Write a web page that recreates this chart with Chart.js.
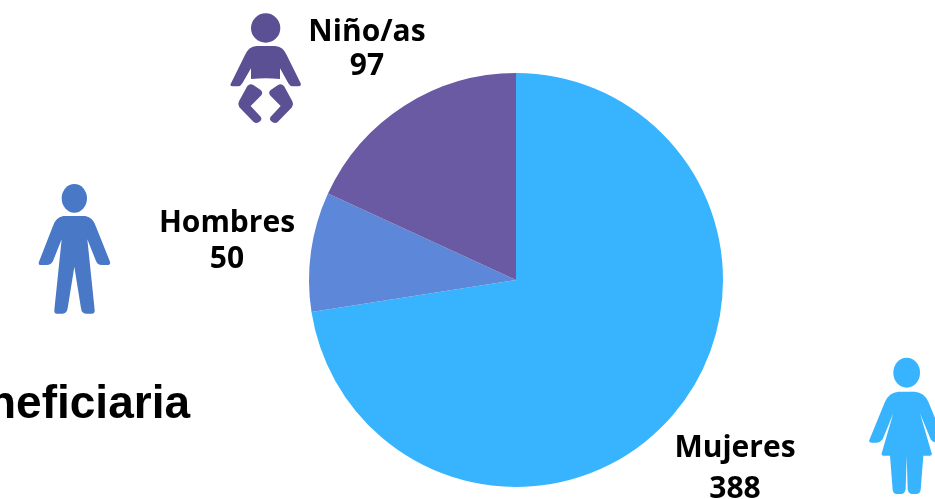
<!DOCTYPE html>
<html>
<head>
<meta charset="utf-8">
<script src="https://cdn.jsdelivr.net/npm/chart.js@4"></script>
<style>
    html, body { margin: 0; padding: 0; background: #fff; overflow: hidden; }
    #wrap { width: 935px; height: 499px; }
</style>
</head>
<body>
<div id="wrap"><canvas id="pieChart"></canvas></div>
<script>
const categories = ['Mujeres', 'Hombres', 'Niño/as'];
const values = [388, 50, 97];
const sliceColors = ['#38B4FF', '#5D87D8', '#6A5AA3'];
const titleText = 'Beneficiaria';

// label centres, same order as categories: [x, first line y, second line y]
const labelPos = [[735, 448, 489], [227, 223, 259], [367, 32, 66]];

// icons are traced at 3x, so they get scaled down when drawn
const babyBody = 'M770 138 L825 138 Q850 140 860 165 L902 250 Q905 259 895 259 L878 259 Q870 259 865 250 L840 205 L840 237 Q797 232 753 237 L753 205 L727 250 Q722 259 714 259 L698 259 Q688 259 693 250 L735 165 Q745 140 770 138 Z';
const babyLegL = 'M742 258 Q750 250 760 255 L782 270 Q790 277 784 286 L752 318 L782 350 Q787 357 781 363 L776 367 Q768 372 761 366 L718 322 Q712 313 717 304 Z';
const babyLegR = 'M852 258 Q844 250 834 255 L812 270 Q804 277 810 286 L842 318 L812 350 Q807 357 813 363 L818 367 Q826 372 833 366 L876 322 Q882 313 877 304 Z';
const manBody = 'M190 648 L256 648 Q280 652 288 680 L330 785 Q333 795 320 795 L305 795 Q293 795 288 783 L262 718 L284 930 Q285 941 275 941 L258 941 Q245 941 243 925 L223 800 L203 925 Q200 941 188 941 L170 941 Q162 941 163 930 L185 718 L159 783 Q153 795 140 795 L124 795 Q113 795 117 785 L158 680 Q166 652 190 648 Z';
const womanBody = 'M745 155 L795 155 Q822 157 835 185 L882 300 Q885 308 875 308 L860 308 Q848 307 842 298 L810 220 L845 340 Q847 347 840 347 L820 347 L812 450 Q810 462 798 462 L785 462 Q775 460 773 448 L770 347 L767 448 Q765 460 755 462 L740 462 Q730 462 728 450 L720 347 L700 347 Q693 347 695 340 L730 220 L698 298 Q692 307 680 308 L665 308 Q655 308 658 300 L705 185 Q718 157 745 155 Z';

function drawIcon(ctx, color, offX, offY, paths, head) {
    ctx.save();
    ctx.translate(offX, offY);
    ctx.scale(1 / 3, 1 / 3);
    ctx.fillStyle = color;
    paths.forEach(p => ctx.fill(new Path2D(p)));
    ctx.beginPath();
    ctx.ellipse(head[0], head[1], head[2], head[3], 0, 0, Math.PI * 2);
    ctx.fill();
    ctx.restore();
}

const extras = {
    id: 'extras',
    afterDraw(chart) {
        const ctx = chart.ctx;
        drawIcon(ctx, '#5B5093', 0, 0, [babyBody, babyLegL, babyLegR], [797, 84, 44, 44]);
        drawIcon(ctx, '#4878C6', 0, 0, [manBody], [223, 595, 38, 43]);
        drawIcon(ctx, '#38B4FF', 650, 340, [womanBody], [770, 98, 40, 45]);

        ctx.save();
        ctx.fillStyle = '#000';
        ctx.textAlign = 'center';
        ctx.textBaseline = 'middle';
        ctx.font = 'bold 30px "Open Sans"';
        categories.forEach((name, i) => {
            ctx.fillText(name, labelPos[i][0], labelPos[i][1]);
            ctx.fillText(String(values[i]), labelPos[i][0], labelPos[i][2]);
        });
        // title runs off the left edge in the original
        ctx.textAlign = 'right';
        ctx.textBaseline = 'alphabetic';
        ctx.font = 'bold 46px "Liberation Sans"';
        ctx.fillText(titleText, 190, 418);
        ctx.restore();
    }
};

new Chart(document.getElementById('pieChart').getContext('2d'), {
    type: 'pie',
    data: {
        labels: categories,
        datasets: [{
            data: values,
            backgroundColor: sliceColors,
            borderWidth: 0
        }]
    },
    options: {
        responsive: true,
        maintainAspectRatio: false,
        animation: false,
        layout: { padding: { left: 309, right: 212, top: 73, bottom: 12 } },
        plugins: {
            legend: { display: false },
            tooltip: { enabled: false }
        }
    },
    plugins: [extras]
});
</script>
</body>
</html>
